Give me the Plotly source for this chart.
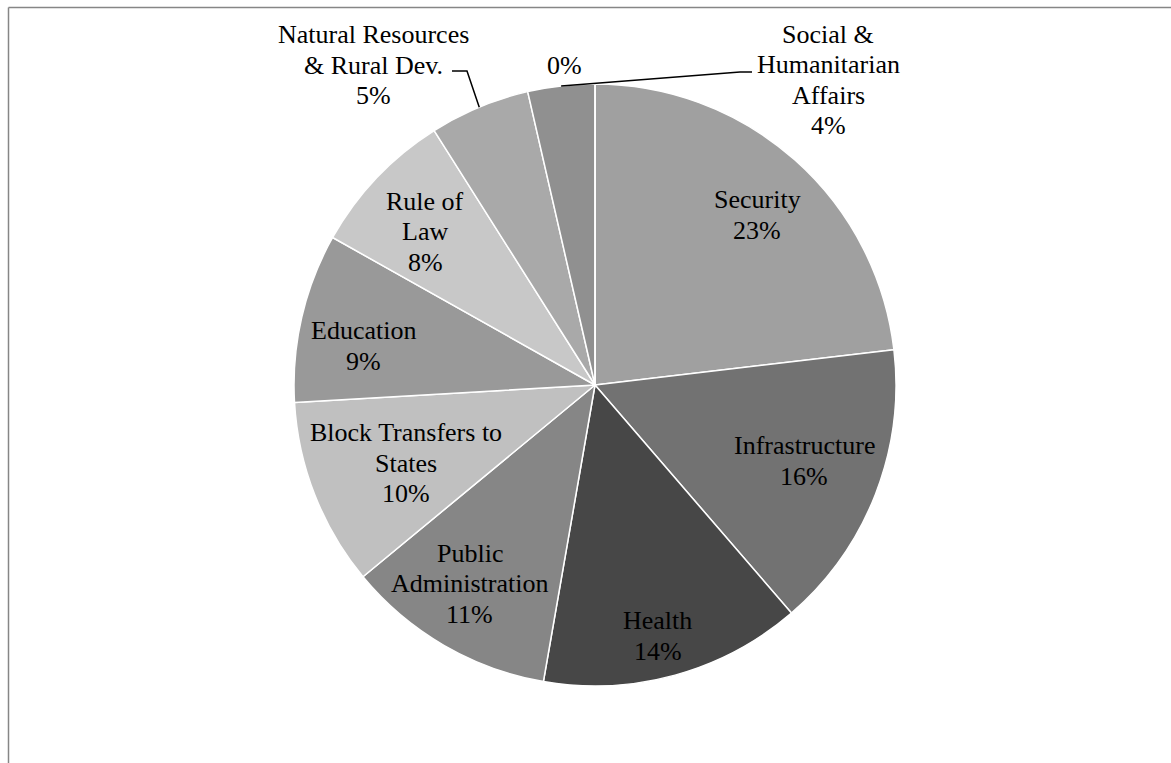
import math
import plotly.graph_objects as go

# ---------------- data ----------------
categories = [
    "Security",
    "Infrastructure",
    "Health",
    "Public Administration",
    "Block Transfers to States",
    "Education",
    "Rule of Law",
    "Natural Resources & Rural Dev.",
    "Social & Humanitarian Affairs",
    "",
]
values = [23.2, 15.6, 14.1, 11.3, 10.1, 9.1, 7.9, 5.4, 3.6, 0.0]
label_lines = [
    ["Security"],
    ["Infrastructure"],
    ["Health"],
    ["Public", "Administration"],
    ["Block Transfers to", "States"],
    ["Education"],
    ["Rule of", "Law"],
    ["Natural Resources", "& Rural Dev."],
    ["Social &", "Humanitarian", "Affairs"],
    [],
]
colors = [
    "#a0a0a0", "#727272", "#474747", "#868686", "#c0c0c0",
    "#999999", "#c8c8c8", "#a9a9a9", "#909090", "#909090",
]

# ---------------- style / geometry ----------------
W, H = 1171, 763
CX, CY, R = 595.0, 385.0, 301.0
FONT = "Liberation Serif, Times New Roman, Times, serif"
FS = 26
LINE_GAP = 30.5

# inside label placement: radial fraction and small angular nudge (deg)
inside_r = {0: 0.78, 1: 0.74, 2: 0.86, 3: 0.78, 4: 0.68, 5: 0.78, 6: 0.76}
inside_dt = {0: 2.0, 1: -1.3, 2: 1.4, 3: 2.1, 4: -1.0, 5: -3.4, 6: -1.5}
# outside labels: offset of label block centre from pie centre (px)
outside_off = {7: (-222, -320), 8: (233, -305), 9: (-31, -320)}
# leader elbows relative to label block centre (px)
leader_pts = {7: [(94, 6), (79, 6)], 8: [(-88, -8), (-76, -8)]}


def to_paper(x, y):
    return x / W, 1 - y / H


total = sum(values)
spans = []
acc = 0.0
for v in values:
    a0 = acc / total * 360
    acc += v
    a1 = acc / total * 360
    spans.append((a0, a1))


def polar(theta, r):
    t = math.radians(theta)
    return CX + r * math.sin(t), CY - r * math.cos(t)


def pct(v):
    return f"{round(v / total * 100)}%"


fig = go.Figure(
    go.Pie(
        labels=categories,
        values=values,
        sort=False,
        direction="clockwise",
        rotation=0,
        textinfo="none",
        marker=dict(colors=colors, line=dict(color="white", width=1.5)),
        domain=dict(
            x=[(CX - R) / W, (CX + R) / W],
            y=[1 - (CY + R) / H, 1 - (CY - R) / H],
        ),
        showlegend=False,
        hoverinfo="label+percent",
    )
)

annotations = []
shapes = []


def add_block(lines, cx, cy):
    n = len(lines)
    for k, txt in enumerate(lines):
        y = cy + (k - (n - 1) / 2) * LINE_GAP
        px, py = to_paper(cx, y)
        annotations.append(
            dict(
                x=px, y=py, xref="paper", yref="paper", text=txt,
                showarrow=False, xanchor="center", yanchor="middle",
                font=dict(family=FONT, size=FS, color="#000000"),
            )
        )


for i, v in enumerate(values):
    a0, a1 = spans[i]
    mid = (a0 + a1) / 2
    lines = label_lines[i] + [pct(v)]
    if i in inside_r:
        cx, cy = polar(mid + inside_dt[i], R * inside_r[i])
    else:
        ox, oy = outside_off[i]
        cx, cy = CX + ox, CY + oy
        if i in leader_pts:
            sx, sy = polar(mid, R)
            pts = [(sx, sy)] + [(cx + dx, cy + dy) for dx, dy in leader_pts[i]]
            path = ""
            for j, (x, y) in enumerate(pts):
                pxp, pyp = to_paper(x, y)
                path += ("M" if j == 0 else " L") + f" {pxp:.5f},{pyp:.5f}"
            shapes.append(
                dict(type="path", path=path, xref="paper", yref="paper",
                     line=dict(color="#000000", width=1.5))
            )
    add_block(lines, cx, cy)

# frame (left and top edges of the chart area)
fx0, fy0 = to_paper(8.5, 7.5)
shapes.append(dict(type="line", xref="paper", yref="paper",
                   x0=fx0, y0=fy0, x1=1.0, y1=fy0,
                   line=dict(color="#868686", width=1.5)))
shapes.append(dict(type="line", xref="paper", yref="paper",
                   x0=fx0, y0=fy0, x1=fx0, y1=0.0,
                   line=dict(color="#868686", width=1.5)))

fig.update_layout(
    width=W,
    height=H,
    margin=dict(l=0, r=0, t=0, b=0),
    paper_bgcolor="white",
    plot_bgcolor="white",
    annotations=annotations,
    shapes=shapes,
)

fig.write_html("out.html")
